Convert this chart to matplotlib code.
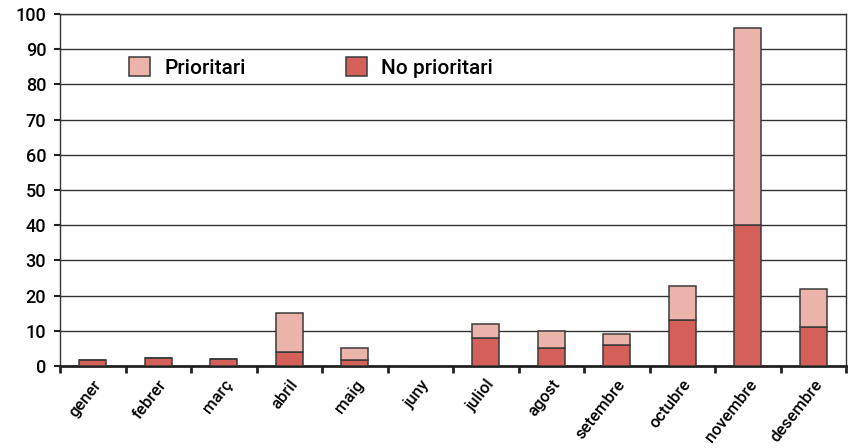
import numpy as np
import matplotlib
matplotlib.use('Agg')
import matplotlib.pyplot as plt

plt.rcParams['font.family'] = ['Roboto', 'DejaVu Sans']

mesos = ['gener', 'febrer', 'març', 'abril', 'maig', 'juny', 'juliol',
         'agost', 'setembre', 'octubre', 'novembre', 'desembre']
no_prioritari = [1.8, 2.2, 2.0, 4, 1.8, 0, 8, 5, 6, 13, 40, 11.2]
total = [1.8, 2.2, 2.0, 15, 5, 0, 12, 10, 9, 22.6, 96, 21.8]
prioritari = [t - n for t, n in zip(total, no_prioritari)]

col_prio = '#ebb3a9'
col_no = '#d5605a'
edge = '#3a3a3a'

fig = plt.figure(figsize=(8.49, 4.48), dpi=100)
ax = fig.add_axes([0.0707, 0.183, 0.926, 0.786])

x = np.arange(len(mesos))
ax.bar(x, no_prioritari, width=0.41, color=col_no, edgecolor=edge, linewidth=1.1,
       zorder=3, label='No prioritari')
ax.bar(x, prioritari, width=0.41, bottom=no_prioritari, color=col_prio, edgecolor=edge,
       linewidth=1.1, zorder=3, label='Prioritari')

ax.set_xlim(-0.5, len(mesos) - 0.5)
ax.set_ylim(0, 100)
ax.set_yticks(np.arange(0, 101, 10))
ax.yaxis.grid(True, color='#333333', linewidth=1.0, zorder=0)
ax.set_axisbelow(True)

ax.set_xticks(x)
ax.set_xticklabels(mesos, rotation=52, ha='right', rotation_mode='anchor',
                   fontsize=12, fontweight='medium')
ax.tick_params(axis='x', which='major', length=0, pad=8)
ax.set_xticks(np.arange(-0.5, len(mesos), 1), minor=True)
ax.tick_params(axis='x', which='minor', length=5, width=2, color='#222222', direction='out')
ax.tick_params(axis='y', length=4, width=1.5, color='#222222', labelsize=13, pad=6)
for t in ax.get_yticklabels():
    t.set_fontweight('medium')

for s in ['left', 'right', 'top']:
    ax.spines[s].set_color('#333333')
    ax.spines[s].set_linewidth(1.0)
ax.spines['bottom'].set_linewidth(2)
ax.spines['bottom'].set_color('#222222')

h, l = ax.get_legend_handles_labels()
ax.legend([h[1], h[0]], [l[1], l[0]], ncol=2, frameon=False,
          prop={'size': 15, 'weight': 'medium'},
          loc='center left', bbox_to_anchor=(0.064, 0.848), handlelength=1.0,
          handleheight=1.0, columnspacing=4.8, handletextpad=0.7)

plt.savefig('out.png', dpi=100)
